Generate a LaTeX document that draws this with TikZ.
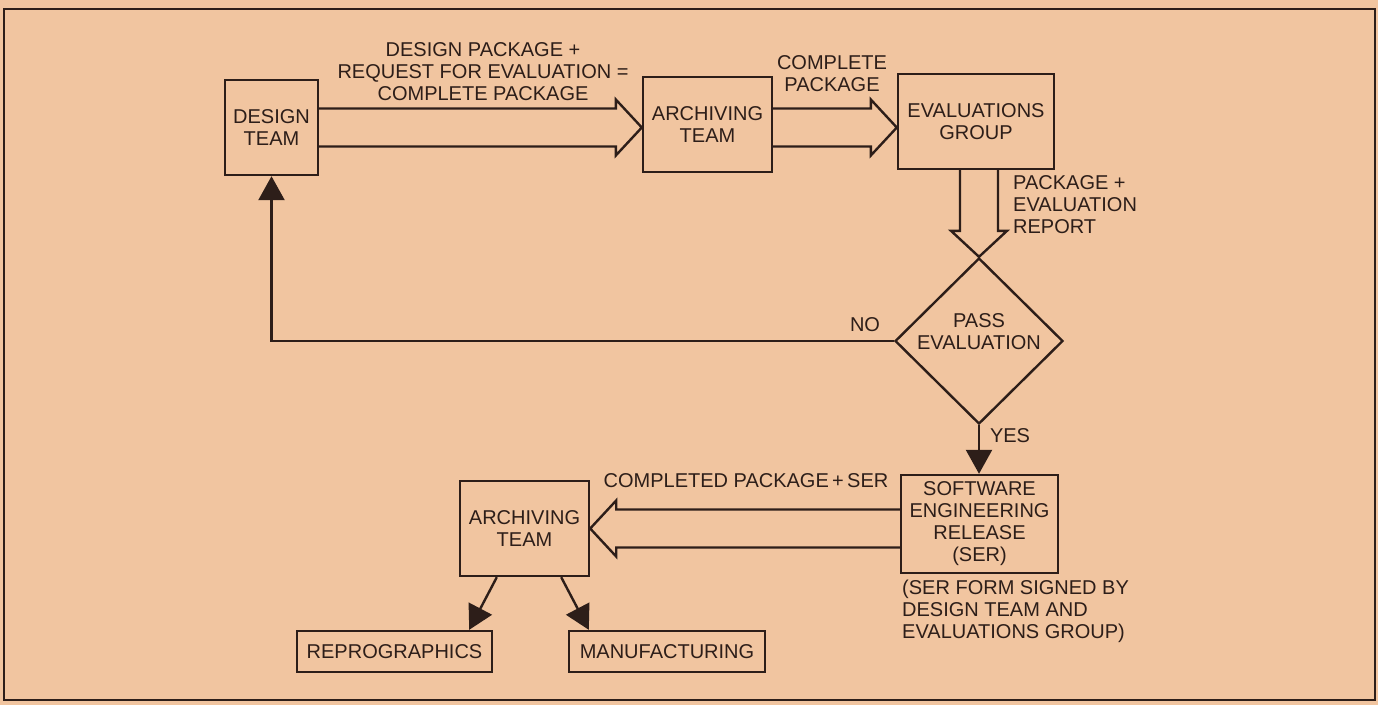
\documentclass[tikz,border=0pt]{standalone}
\usepackage{fontspec}
\setmainfont{Liberation Sans}
\usetikzlibrary{positioning,shapes.geometric,calc,arrows.meta}
\tikzset{>={Triangle[width=26pt,length=24pt]}}
\definecolor{paper}{RGB}{241,197,160}
\definecolor{ink}{RGB}{45,30,25}
\newcommand{\fatarrow}[2]{%
    \coordinate (fatS) at (#1);
    \coordinate (fatT) at (#2);
    \coordinate (fatB) at ($(fatT)!26pt!(fatS)$);
    \draw[fat] ($(fatS)!19pt!90:(fatT)$)--($(fatB)!19pt!90:(fatT)$)--($(fatB)!28pt!90:(fatT)$)--(fatT)
        --($(fatB)!28pt!-90:(fatT)$)--($(fatB)!19pt!-90:(fatT)$)--($(fatS)!19pt!-90:(fatT)$);
}

\begin{document}
\begin{tikzpicture}[x=1pt, y=-1pt, line width=2.4pt, color=ink,
    every node/.style={font=\fontsize{20}{22}\selectfont, align=center, inner sep=0pt},
    box/.style={draw, minimum height=95pt},
    flat/.style={draw, minimum height=41pt},
    fat/.style={line join=miter}]
    \fill[paper](0, 0) rectangle (1378, 705);
    \draw[line width=2pt](4, 9) rectangle (1375, 700);
    \node[box, minimum width=93pt](design) at (271.5, 127.5){DESIGN\\TEAM};
    \node[box, minimum width=129pt](archA) at (707.5, 124.5){ARCHIVING\\TEAM};
    \node[box, minimum width=156pt](eval) at (976, 121.5){EVALUATIONS\\GROUP};
    \node[draw, diamond, minimum width=168pt, minimum height=166pt](pass) at (979, 341){};
    \node(passtxt) at ([yshift=9pt]pass.center){PASS\\EVALUATION};
    \node[box, minimum width=157pt, minimum height=98pt](ser) at (979.5, 524){SOFTWARE\\ENGINEERING\\RELEASE\\(SER)};
    \node[box, minimum width=129pt](archB) at (524.5, 528.5){ARCHIVING\\TEAM};
    \node[flat, minimum width=195pt](repro) at (394.5, 651.5){REPROGRAPHICS};
    \node[flat, minimum width=196pt](manu) at (667, 651.5){MANUFACTURING};
    \fatarrow{design.east}{design.east -| archA.west}
    \fatarrow{design.east -| archA.east}{design.east -| eval.west}
    \fatarrow{eval.south -| pass.north}{pass.north}
    \fatarrow{ser.west |- archB.east}{archB.east}
    \draw[->](pass.west) -| (design.south);
    \draw[->](pass.south) -- (pass.south |- ser.north);
    \draw[->]([xshift=38pt]archB.south west) -- ([xshift=-24pt]repro.north east);
    \draw[->]([xshift=-29pt]archB.south east) -- ([xshift=21pt]manu.north west);
    \node(designlbl) at (483, 72){DESIGN PACKAGE +\\REQUEST FOR EVALUATION =\\COMPLETE PACKAGE};
    \node(completelbl) at (832, 74){COMPLETE\\PACKAGE};
    \node[anchor=west, align=left](reportlbl) at (1012, 205){PACKAGE +\\EVALUATION\\REPORT};
    \node(nolbl) at (865, 325){NO};
    \node(yeslbl) at (1010, 436){YES};
    \node(serlbl) at (746, 481){COMPLETED PACKAGE\,+\,SER};
    \node[anchor=west, align=left](signlbl) at (901, 611){(SER FORM SIGNED BY\\DESIGN TEAM AND\\EVALUATIONS GROUP)};
\end{tikzpicture}
\end{document}
